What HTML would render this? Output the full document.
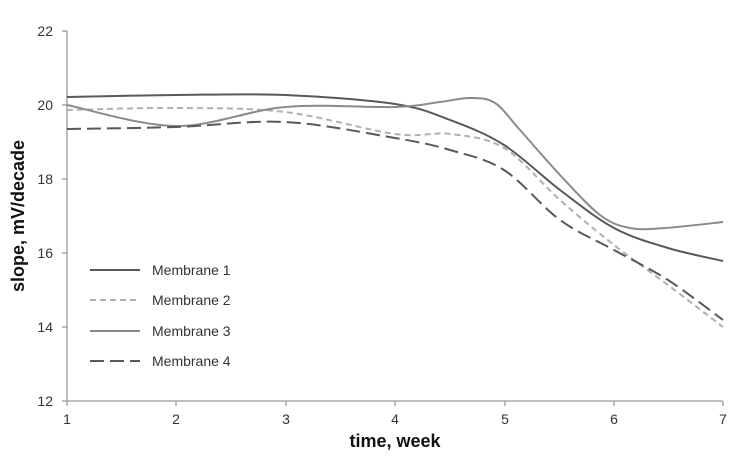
<!DOCTYPE html>
<html><head><style>body{margin:0;background:#fff}svg{display:block}text{font-family:"Liberation Sans",Arial,sans-serif}</style></head>
<body>
<svg id="s" width="737" height="457" xmlns="http://www.w3.org/2000/svg">
<g stroke="#999" stroke-width="1.3" fill="none">
<line x1="67" y1="31" x2="67" y2="401"/>
<line x1="67" y1="401" x2="723" y2="401"/>
<line x1="62" y1="31" x2="67" y2="31"/><line x1="62" y1="105" x2="67" y2="105"/><line x1="62" y1="179" x2="67" y2="179"/><line x1="62" y1="253" x2="67" y2="253"/><line x1="62" y1="327" x2="67" y2="327"/><line x1="62" y1="401" x2="67" y2="401"/>
<line x1="67" y1="401" x2="67" y2="406"/><line x1="176" y1="401" x2="176" y2="406"/><line x1="286" y1="401" x2="286" y2="406"/><line x1="395" y1="401" x2="395" y2="406"/><line x1="505" y1="401" x2="505" y2="406"/><line x1="614" y1="401" x2="614" y2="406"/><line x1="723" y1="401" x2="723" y2="406"/>
</g>
<g font-size="14" fill="#333" text-anchor="end">
<text x="53" y="36">22</text><text x="53" y="110">20</text><text x="53" y="184">18</text><text x="53" y="258">16</text><text x="53" y="332">14</text><text x="53" y="406">12</text>
</g>
<g font-size="14" fill="#333" text-anchor="middle">
<text x="67" y="424">1</text><text x="176" y="424">2</text><text x="286" y="424">3</text><text x="395" y="424">4</text><text x="505" y="424">5</text><text x="614" y="424">6</text><text x="723" y="424">7</text>
</g>
<text x="395" y="447" font-size="18" font-weight="bold" text-anchor="middle" fill="#111">time, week</text>
<text transform="translate(24,216) rotate(-90)" font-size="18" font-weight="bold" text-anchor="middle" fill="#111">slope, mV/decade</text>
<path id="m1" fill="none" stroke="#595959" stroke-width="2"/>
<path id="m2" fill="none" stroke="#b0b0b0" stroke-width="2" stroke-dasharray="6,4"/>
<path id="m3" fill="none" stroke="#8a8a8a" stroke-width="2"/>
<path id="m4" fill="none" stroke="#595959" stroke-width="2" stroke-dasharray="14,6"/>
<line x1="90" y1="270" x2="140" y2="270" stroke="#595959" stroke-width="2"/>
<line x1="90" y1="300" x2="140" y2="300" stroke="#b0b0b0" stroke-width="2" stroke-dasharray="6,4"/>
<line x1="90" y1="331" x2="140" y2="331" stroke="#8a8a8a" stroke-width="2"/>
<line x1="90" y1="361" x2="140" y2="361" stroke="#595959" stroke-width="2" stroke-dasharray="14,6"/>
<g font-size="14" fill="#333">
<text x="152" y="275">Membrane 1</text><text x="152" y="305">Membrane 2</text><text x="152" y="336">Membrane 3</text><text x="152" y="366">Membrane 4</text>
</g>
</svg>
<script>
function cr(p){let d="M"+p[0][0]+","+p[0][1];for(let i=0;i<p.length-1;i++){const a=p[Math.max(0,i-1)],b=p[i],c=p[i+1],e=p[Math.min(p.length-1,i+2)];const c1=[b[0]+(c[0]-a[0])/6,b[1]+(c[1]-a[1])/6],c2=[c[0]-(e[0]-b[0])/6,c[1]-(e[1]-b[1])/6];d+=" C"+c1+" "+c2+" "+c;}return d;}
const D={m1:[[67,97],[176,95],[285,95],[395,104],[450,120],[504,145],[560,190],[614,228],[668,248],[723,261]],
m2:[[67,110],[176,108],[285,112],[395,134],[450,134],[504,148],[560,200],[614,245],[668,285],[723,327]],
m3:[[67,105],[176,126],[285,107],[395,107],[440,102],[470,98],[495,103],[520,130],[560,175],[600,215],[630,228],[665,228],[723,222]],
m4:[[67,129],[176,127],[285,122],[395,138],[450,150],[504,170],[560,220],[614,250],[668,280],[723,320]]};
for(const k in D)document.getElementById(k).setAttribute("d",cr(D[k]));
</script>
</body></html>
